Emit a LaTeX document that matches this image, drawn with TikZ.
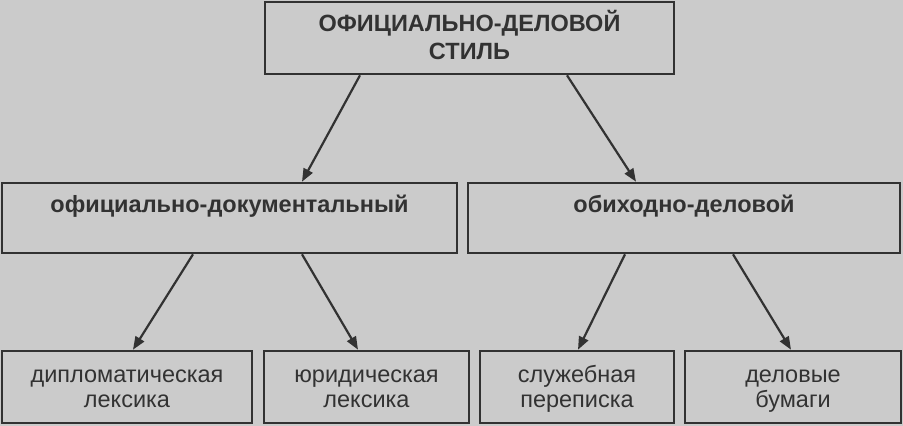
\documentclass[tikz,border=0pt]{standalone}
\usepackage{fontspec}
\setmainfont{Liberation Sans}
\usetikzlibrary{arrows.meta}
\definecolor{paper}{RGB}{203,203,203}
\definecolor{ink}{RGB}{50,50,50}
\tikzset{
	box/.style={draw=ink,line width=2.6pt,fill=paper,text=ink,inner sep=0pt,align=center},
	head/.style={font=\bfseries\fontsize{23.5}{28}\selectfont,text height=47pt,text depth=5pt,minimum height=72pt},
	sub/.style={font=\bfseries\fontsize{23.5}{25}\selectfont,text height=17pt,text depth=29pt,minimum height=70pt},
	leaf/.style={font=\fontsize{23.5}{25}\selectfont,text height=45pt,text depth=5pt,minimum height=72pt}
}
\begin{document}
\begin{tikzpicture}[x=1pt,y=-1pt,>={Triangle[length=13pt,width=10pt]}]
	\fill[paper] (0,0) rectangle (903,426);
	\useasboundingbox (0,0) rectangle (903,426);
	\node[box,head,minimum width=409pt] (stil) at (469.5,38) {ОФИЦИАЛЬНО-ДЕЛОВОЙ\\СТИЛЬ};
	\node[box,sub,minimum width=455pt] (dok) at (229.5,218) {официально-документальный};
	\node[box,sub,minimum width=432pt] (obi) at (684,218) {обиходно-деловой};
	\node[box,leaf,minimum width=250pt] (dip) at (127,387) {дипломатическая\\лексика};
	\node[box,leaf,minimum width=205pt] (yur) at (366.5,387) {юридическая\\лексика};
	\node[box,leaf,minimum width=194pt] (slu) at (577,387) {служебная\\переписка};
	\node[box,leaf,minimum width=216pt] (bum) at (793,387) {деловые\\бумаги};
	\draw[->,ink,line width=2.2pt] ([xshift=-109.5pt]stil.south)--([xshift=72.5pt]dok.north);
	\draw[->,ink,line width=2.2pt] ([xshift=97.5pt]stil.south)--([xshift=-48pt]obi.north);
	\draw[->,ink,line width=2.2pt] ([xshift=-36.5pt]dok.south)--([xshift=6pt]dip.north);
	\draw[->,ink,line width=2.2pt] ([xshift=72.5pt]dok.south)--([xshift=-8.5pt]yur.north);
	\draw[->,ink,line width=2.2pt] ([xshift=-59pt]obi.south)--([xshift=1pt]slu.north);
	\draw[->,ink,line width=2.2pt] ([xshift=49pt]obi.south)--([xshift=-2pt]bum.north);
\end{tikzpicture}
\end{document}
